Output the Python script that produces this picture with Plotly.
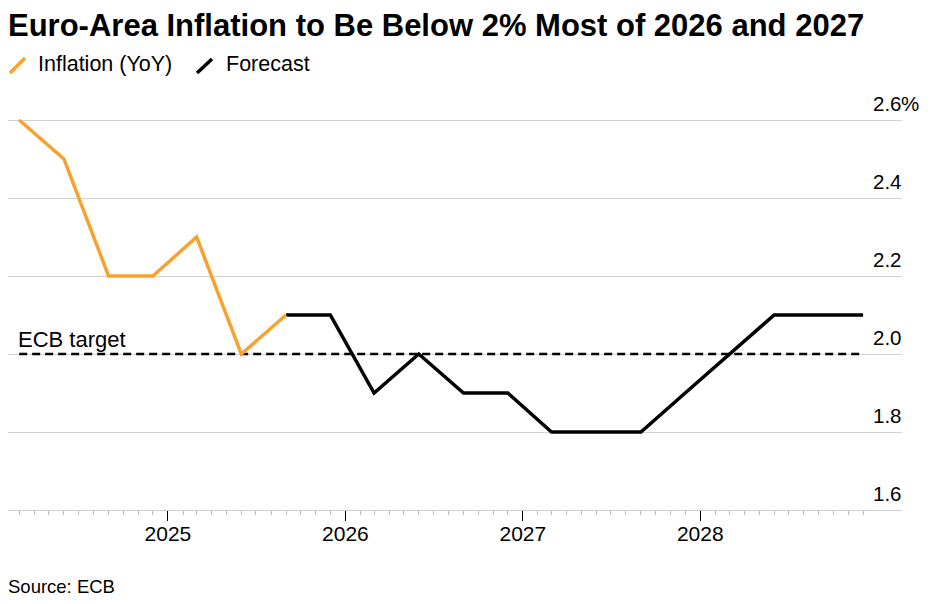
import plotly.graph_objects as go
import pandas as pd

# ---- data ----
actual_dates = ["2024-03-01", "2024-06-01", "2024-09-01", "2024-12-01",
                "2025-03-01", "2025-06-01", "2025-09-01"]
actual_values = [2.6, 2.5, 2.2, 2.2, 2.3, 2.0, 2.1]

forecast_dates = ["2025-09-01", "2025-12-01", "2026-03-01", "2026-06-01",
                  "2026-09-01", "2026-12-01", "2027-03-01", "2027-06-01",
                  "2027-09-01", "2027-12-01", "2028-03-01", "2028-06-01",
                  "2028-09-01", "2028-12-01"]
forecast_values = [2.1, 2.1, 1.9, 2.0, 1.9, 1.9, 1.8, 1.8, 1.8, 1.9, 2.0, 2.1, 2.1, 2.1]

target_value = 2.0
target_label = "ECB target"

y_tickvals = [1.6, 1.8, 2.0, 2.2, 2.4, 2.6]
y_ticktext = ["1.6", "1.8", "2.0", "2.2", "2.4", "2.6"]
x_tickvals = ["2025-01-01", "2026-01-01", "2027-01-01", "2028-01-01"]
x_ticktext = ["2025", "2026", "2027", "2028"]

title_text = "Euro-Area Inflation to Be Below 2% Most of 2026 and 2027"
source_text = "Source: ECB"
series_names = ["Inflation (YoY)", "Forecast"]

ORANGE = "#F9A12E"
BLACK = "#000000"
FONT = "Liberation Sans"

W, H = 933, 604
ML, MR, MT, MB = 8, 31, 100, 94
plot_w = W - ML - MR
plot_h = H - MT - MB


def px_(xpix):
    return (xpix - ML) / plot_w


def py(ypix):
    return (H - MB - ypix) / plot_h


all_dates = actual_dates + forecast_dates
minor_ticks = [d.strftime("%Y-%m-%d") for d in
               pd.date_range(all_dates[0], all_dates[-1], freq="MS")]

fig = go.Figure()

fig.add_trace(go.Scatter(
    x=[all_dates[0], all_dates[-1]], y=[target_value, target_value],
    mode="lines", line=dict(color=BLACK, width=2.5, dash="8px,5px"),
    showlegend=False, hoverinfo="skip"))
fig.add_trace(go.Scatter(
    x=forecast_dates, y=forecast_values, mode="lines",
    line=dict(color=BLACK, width=3.5), name=series_names[1], showlegend=False))
fig.add_trace(go.Scatter(
    x=actual_dates, y=actual_values, mode="lines",
    line=dict(color=ORANGE, width=3.5), name=series_names[0], showlegend=False))

# y tick labels, right-aligned at plot edge, above gridlines
for v, t in zip(y_tickvals, y_ticktext):
    fig.add_annotation(
        x=1, xref="paper", y=v, yref="y", text=t, showarrow=False,
        xanchor="right", yanchor="bottom", yshift=3, xshift=2,
        font=dict(family=FONT, size=20.5, color="#000"))
fig.add_annotation(
    x=1, xref="paper", y=y_tickvals[-1], yref="y", text="%", showarrow=False,
    xanchor="left", yanchor="bottom", yshift=3, xshift=-3,
    font=dict(family=FONT, size=20.5, color="#000"))

# ECB target label
fig.add_annotation(
    x=all_dates[0], xref="x", y=target_value, yref="y", text=target_label,
    showarrow=False, xanchor="left", yanchor="bottom", yshift=0, xshift=-3,
    font=dict(family=FONT, size=22, color="#000"))

# title
fig.add_annotation(
    x=px_(8), xref="paper", y=py(25), yref="paper",
    text="<b>" + title_text + "</b>", showarrow=False,
    xanchor="left", yanchor="middle", xshift=-2,
    font=dict(family=FONT, size=31, color="#000"))

# legend texts
for name, xp in [(series_names[0], 38), (series_names[1], 226)]:
    fig.add_annotation(
        x=px_(xp), xref="paper", y=py(64), yref="paper", text=name,
        showarrow=False, xanchor="left", yanchor="middle", xshift=-2,
        font=dict(family=FONT, size=21.5, color="#000"))

# source
fig.add_annotation(
    x=px_(8), xref="paper", y=py(586), yref="paper", text=source_text,
    showarrow=False, xanchor="left", yanchor="middle", xshift=-2,
    font=dict(family=FONT, size=18.5, color="#000"))

# legend slash icons
for col, x0, y0, x1, y1 in [(ORANGE, 10, 73, 25, 58), (BLACK, 197, 73, 212, 59)]:
    fig.add_shape(type="line", xref="paper", yref="paper",
                  x0=px_(x0), y0=py(y0), x1=px_(x1), y1=py(y1),
                  line=dict(color=col, width=3.5))

fig.update_layout(
    width=W, height=H,
    margin=dict(l=ML, r=MR, t=MT, b=MB),
    paper_bgcolor="white", plot_bgcolor="white",
    showlegend=False,
    xaxis=dict(
        range=["2024-02-07", "2029-02-19"],
        tickmode="array", tickvals=x_tickvals, ticktext=x_ticktext,
        ticks="outside", ticklen=10, tickcolor="#000", tickwidth=1,
        ticklabelstandoff=-5,
        showgrid=False, showline=True, linecolor="#cccccc", linewidth=1,
        zeroline=False,
        tickfont=dict(family=FONT, size=21, color="#000"),
        minor=dict(tickmode="array", tickvals=minor_ticks, ticks="outside",
                   ticklen=4, tickcolor="#bbbbbb", tickwidth=1, showgrid=False),
        fixedrange=True,
    ),
    yaxis=dict(
        range=[1.6, 1.6 + 0.2 * plot_h / 78],
        tickmode="array", tickvals=y_tickvals, showticklabels=False,
        showgrid=True, gridcolor="#d3d3d3", gridwidth=1,
        zeroline=False, ticks="",
        fixedrange=True,
    ),
)

fig.write_html("out.html", config={"displayModeBar": False},
               post_script="document.body.style.margin='0';")
